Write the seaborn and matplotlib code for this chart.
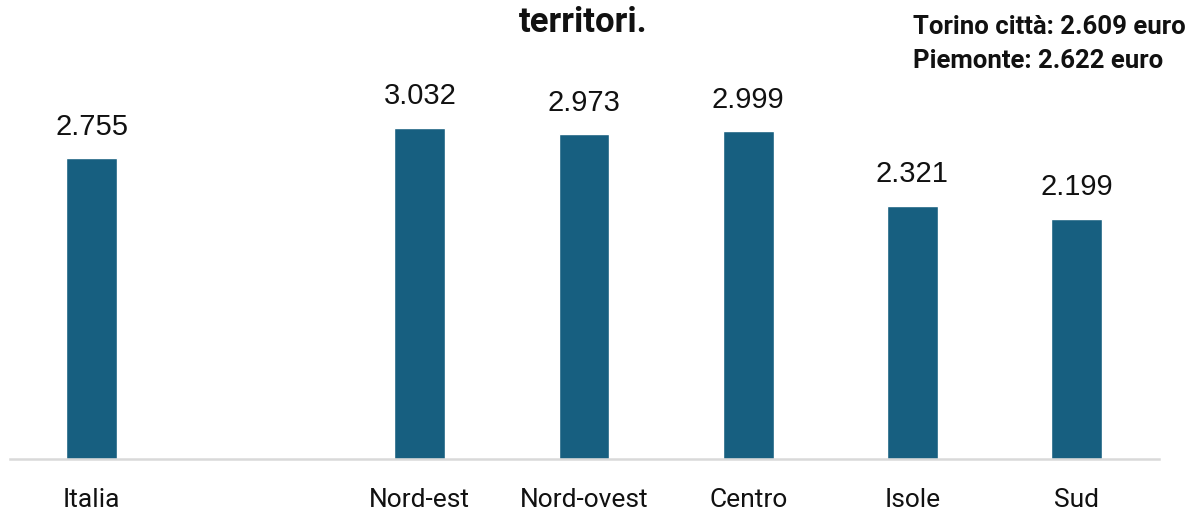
import numpy as np
import pandas as pd
import seaborn as sns
import matplotlib.pyplot as plt

categories = ['Italia', ' ', 'Nord-est', 'Nord-ovest', 'Centro', 'Isole', 'Sud']
values = [2.755, np.nan, 3.032, 2.973, 2.999, 2.321, 2.199]
labels = ['2.755', '', '3.032', '2.973', '2.999', '2.321', '2.199']
note_lines = ['Torino città: 2.609 euro', 'Piemonte: 2.622 euro']

bar_color = '#175f80'

sns.set_style('white')
plt.rcParams['font.family'] = ['Roboto', 'DejaVu Sans']

df = pd.DataFrame({'area': categories, 'valore': values})

fig = plt.figure(figsize=(11.93, 5.12), dpi=100)
ax = fig.add_axes([9.5 / 1193, 53 / 512, 1149 / 1193, 459 / 512])

sns.barplot(data=df, x='area', y='valore', order=categories, color=bar_color,
            width=0.31, saturation=1, ax=ax)

for i, (v, lab) in enumerate(zip(values, labels)):
    if lab:
        ax.text(i, v + 0.16, lab, ha='center', va='bottom', fontsize=21,
                family='Liberation Sans', color='#111111')

ax.set_xlim(-0.5, len(categories) - 0.5)
ax.set_ylim(0, 4.203)
ax.set_xlabel('')
ax.set_ylabel('')
ax.set_yticks([])
ax.tick_params(axis='x', length=0, pad=21, labelsize=19, labelcolor='#111111')

for side in ['top', 'right', 'left']:
    ax.spines[side].set_visible(False)
ax.spines['bottom'].set_color('#d9d9d9')
ax.spines['bottom'].set_linewidth(1.8)

fig.text(583 / 1193, 1 - 22 / 512, 'territori.', ha='center', va='center',
         fontsize=25, fontweight='bold', color='#111111')
fig.text(913 / 1193, 1 - 27 / 512, note_lines[0], ha='left', va='center',
         fontsize=18.5, fontweight='bold', color='#111111')
fig.text(913 / 1193, 1 - 61 / 512, note_lines[1], ha='left', va='center',
         fontsize=18.5, fontweight='bold', color='#111111')

fig.savefig('out.png', dpi=100)
